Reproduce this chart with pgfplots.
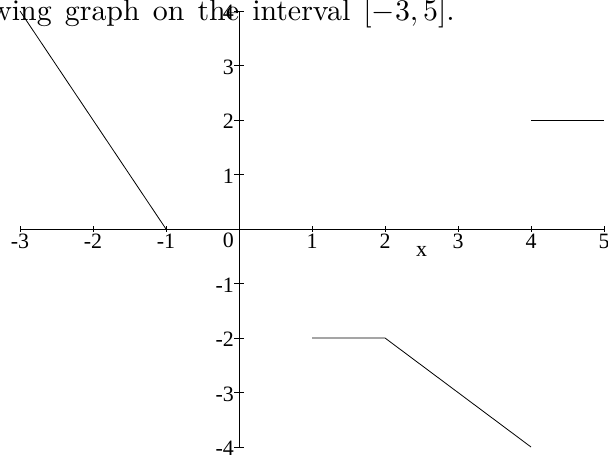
\documentclass[border=0pt]{standalone}
\usepackage{pgfplots}
\pgfplotsset{compat=1.18}
\usepackage{graphicx}
\usepackage{fontspec}
\newfontfamily\tickfont{Liberation Serif}
\begin{document}
\begin{tikzpicture}
\useasboundingbox (-20bp,-13bp) rectangle (588bp,447bp);
\clip (-20bp,-13bp) rectangle (588bp,447bp);
\begin{axis}[
  at={(0,0)}, anchor=south west,
  x=73bp, y=54.5bp,
  xmin=-3, xmax=5, ymin=-4, ymax=4,
  axis lines=middle,
  axis line style={-, line width=0.9bp},
  enlargelimits=false,
  xtick={-3,-2,-1,1,2,3,4,5},
  xticklabels={-3,-2,-1,1,2,3,4,5},
  ytick={-4,-3,-2,-1,1,2,3,4},
  yticklabels={-4,-3,-2,-1,1,2,3,4},
  tick align=center,
  major tick length=10bp,
  xtick style={/pgfplots/major tick length=6bp},
  tick style={black, line width=0.8bp},
  ticklabel style={font=\tickfont\fontsize{22}{26}\selectfont, inner sep=0bp},
  xticklabel style={anchor=north, yshift=0bp},
  yticklabel style={anchor=east, xshift=0bp, yshift=-1.5bp},
  clip=false,
]
\addplot[black, line width=0.8bp] coordinates {(-3,4) (-1,0)};
\addplot[black, line width=0.8bp] coordinates {(1,-2) (2,-2) (4,-4)};
\addplot[black, line width=0.8bp] coordinates {(4,2) (5,2)};
\node[anchor=north east, inner sep=0pt, font=\tickfont\fontsize{22}{26}\selectfont]
  at (axis cs:0,0) [xshift=-5bp, yshift=-4bp] {0};
\node[anchor=base, inner sep=0pt, font=\tickfont\fontsize{22}{26}\selectfont]
  at (axis cs:2.5,0) [yshift=-28bp] {x};
\end{axis}
\node[anchor=base east, inner sep=0pt]
  at (435bp,426bp) {\scalebox{3.0}{\fontsize{10}{12}\selectfont\spaceskip=4.4pt\relax
    Sketch the following graph on the interval $[-3,5]$.}};
\end{tikzpicture}
\end{document}
